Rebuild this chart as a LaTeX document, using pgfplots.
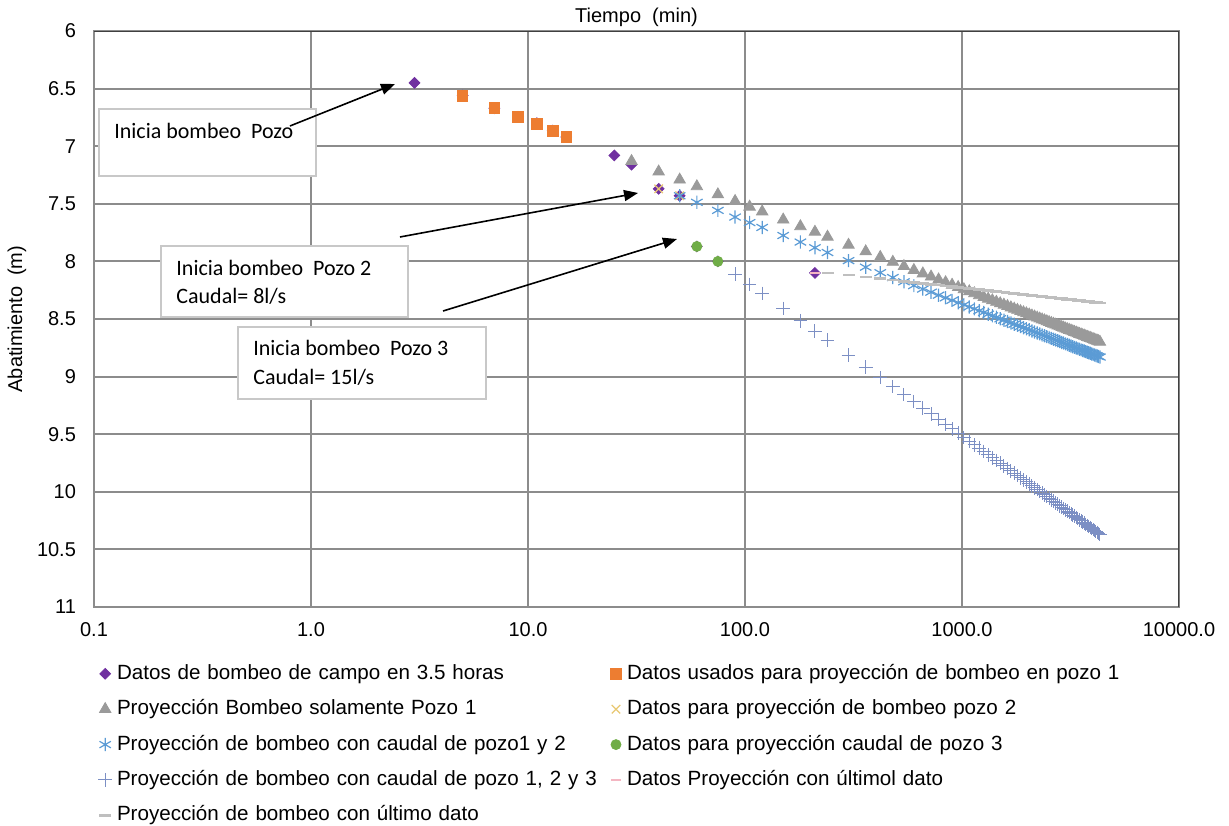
\documentclass[border=0pt]{standalone}
\usepackage{pgfplots}
\pgfplotsset{compat=1.18}
\usepackage{pgfplotstable}
\usepackage{fontspec}
\setmainfont{Liberation Sans}
\newfontfamily\calfont{Carlito}
\usetikzlibrary{arrows.meta}
\definecolor{campo}{HTML}{7030A0}
\definecolor{naranja}{HTML}{ED7D31}
\definecolor{tri}{HTML}{9A9A9A}
\definecolor{amarillo}{HTML}{E8C872}
\definecolor{ast}{HTML}{5B9BD5}
\definecolor{verde}{HTML}{70AD47}
\definecolor{plusc}{HTML}{7C8FC4}
\definecolor{rosa}{HTML}{F4B6C2}
\definecolor{ultimo}{HTML}{BFBFBF}
\definecolor{gridgray}{HTML}{8C8C8C}
\definecolor{boxgray}{HTML}{C8C8C8}

\pgfplotstableread{
t p1 p12 p123 ult
30 7.130 nan nan nan
40 7.221 nan nan nan
50 7.291 7.430 nan nan
60 7.349 7.487 nan nan
75 7.419 7.557 nan nan
90 7.477 7.615 8.110 nan
105 7.526 7.663 8.200 nan
120 7.568 7.705 8.278 nan
150 7.638 7.775 8.408 nan
180 7.696 7.832 8.515 nan
210 7.744 7.881 8.605 nan
240 7.787 7.923 8.683 8.100
300 7.857 7.993 8.813 8.120
360 7.914 8.050 8.919 8.136
420 7.963 8.098 9.009 8.150
480 8.005 8.140 9.087 8.162
540 8.042 8.177 9.156 8.173
600 8.076 8.210 9.217 8.182
660 8.106 8.240 9.273 8.191
720 8.133 8.267 9.324 8.199
780 8.158 8.293 9.371 8.206
840 8.182 8.316 9.414 8.213
900 8.204 8.338 9.454 8.219
960 8.224 8.358 9.492 8.225
1020 8.243 8.377 9.527 8.230
1080 8.261 8.395 9.560 8.235
1140 8.278 8.412 9.592 8.240
1200 8.295 8.428 9.622 8.245
1260 8.310 8.443 9.650 8.249
1320 8.325 8.458 9.678 8.253
1380 8.339 8.472 9.704 8.257
1440 8.352 8.485 9.728 8.261
1500 8.365 8.498 9.752 8.265
1560 8.377 8.510 9.775 8.268
1620 8.389 8.522 9.797 8.272
1680 8.401 8.534 9.818 8.275
1740 8.412 8.545 9.839 8.278
1800 8.422 8.555 9.859 8.281
1860 8.433 8.565 9.878 8.284
1920 8.443 8.575 9.896 8.287
1980 8.452 8.585 9.914 8.290
2040 8.462 8.594 9.932 8.292
2100 8.471 8.604 9.949 8.295
2160 8.480 8.612 9.965 8.298
2220 8.489 8.621 9.981 8.300
2280 8.497 8.629 9.997 8.302
2340 8.505 8.638 10.012 8.305
2400 8.513 8.646 10.027 8.307
2460 8.521 8.653 10.041 8.309
2520 8.528 8.661 10.055 8.311
2580 8.536 8.668 10.069 8.313
2640 8.543 8.675 10.082 8.316
2700 8.550 8.683 10.095 8.318
2760 8.557 8.689 10.108 8.320
2820 8.564 8.696 10.121 8.321
2880 8.571 8.703 10.133 8.323
2940 8.577 8.709 10.145 8.325
3000 8.584 8.716 10.157 8.327
3060 8.590 8.722 10.168 8.329
3120 8.596 8.728 10.180 8.331
3180 8.602 8.734 10.191 8.332
3240 8.608 8.740 10.202 8.334
3300 8.614 8.746 10.212 8.336
3360 8.619 8.751 10.223 8.337
3420 8.625 8.757 10.233 8.339
3480 8.631 8.762 10.243 8.340
3540 8.636 8.768 10.253 8.342
3600 8.641 8.773 10.263 8.343
3660 8.646 8.778 10.273 8.345
3720 8.651 8.783 10.282 8.346
3780 8.657 8.788 10.292 8.348
3840 8.661 8.793 10.301 8.349
3900 8.666 8.798 10.310 8.351
3960 8.671 8.803 10.319 8.352
4020 8.676 8.807 10.328 8.353
4080 8.681 8.812 10.336 8.355
4140 8.685 8.817 10.345 8.356
4200 8.690 8.821 10.353 8.357
4260 8.694 8.826 10.361 8.359
4320 8.699 8.830 10.370 8.360
}\proj

\begin{document}
\begin{tikzpicture}
\begin{axis}[
  at={(0,0)}, anchor=south west,
  scale only axis, width=542.5pt, height=288pt,
  xmode=log, xmin=0.1, xmax=10000, ymin=6, ymax=11, y dir=reverse,
  xminorticks=false,
  xtick={0.1,1,10,100,1000,10000},
  xticklabels={0.1,1.0,10.0,100.0,1000.0,10000.0},
  ytick={6,6.5,7,7.5,8,8.5,9,9.5,10,10.5,11},
  yticklabels={6,6.5,7,7.5,8,8.5,9,9.5,10,10.5,11},
  /pgf/number format/assume math mode=true,
  grid=major,
  major grid style={draw=gridgray, line width=1pt},
  axis line style={draw=gridgray, line width=1pt},
  tick style={draw=none},
  ticklabel style={font=\fontsize{10}{12}\selectfont},
  xticklabel style={yshift=-4pt},
  yticklabel style={xshift=-5.5pt},
  title={Tiempo\ \ (min)},
  title style={at={(axis description cs:0.5,1)}, anchor=center, yshift=1pt, font=\fontsize{10}{12}\selectfont},
  ylabel={Abatimiento\ \ (m)},
  ylabel style={at={(axis description cs:-0.0709,0.5)}, anchor=center, font=\fontsize{10}{12}\selectfont},
  legend columns=2,
  legend cell align=left,
  legend style={at={(axis description cs:0.0037,-0.097)}, anchor=north west, draw=none, fill=none,
    inner sep=0pt, column sep=0pt, row sep=7.2pt, font=\fontsize{10.3}{12}\selectfont,
    nodes={text width=244pt, inner xsep=2.5pt, inner ysep=0pt, text height=8pt, text depth=2.5pt, align=left}},
  legend image code/.code={\path[draw=none,fill=none] (-3pt,-2pt) rectangle (3pt,2pt); \draw[#1] plot coordinates {(0pt,0pt)};},
]
% 1 campo
\addplot[only marks, mark=square*, mark size=1.9pt, color=campo, mark options={rotate=45}]
  coordinates {(3,6.45)(5,6.56)(7,6.67)(9,6.745)(11,6.80)(13,6.865)(15,6.92)(25,7.08)(30,7.16)(40,7.37)(50,7.43)(60,7.87)(75,8.00)(210,8.10)};
\addlegendentry{\mbox{Datos de bombeo de campo en 3.5 horas}}
% 2 orange
\addplot[only marks, mark=square*, mark size=2.6pt, color=naranja]
  coordinates {(5,6.563)(7,6.667)(9,6.745)(11,6.806)(13,6.867)(15,6.918)};
\addlegendentry{\mbox{Datos usados para proyección de bombeo en pozo 1}}
% 3 triangles
\addplot[only marks, mark=triangle*, mark size=3.3pt, color=tri] table[x=t, y=p1] {\proj};
\addlegendentry{\mbox{Proyección Bombeo solamente Pozo 1}}
% 4 yellow x
\addplot[only marks, mark=x, mark size=3pt, color=amarillo, mark options={line width=0.6pt}]
  coordinates {(40,7.37)(50,7.43)};
\addlegendentry{\mbox{Datos para proyección de bombeo pozo 2}}
% 5 asterisk
\addplot[only marks, mark=asterisk, mark size=3.3pt, color=ast, mark options={line width=0.6pt}] table[x=t, y=p12] {\proj};
\addlegendentry{\mbox{Proyección de bombeo con caudal de pozo1 y 2}}
% 6 green
\addplot[only marks, mark=*, mark size=2.5pt, color=verde]
  coordinates {(60,7.87)(75,8.00)};
\addlegendentry{\mbox{Datos para proyección caudal de pozo 3}}
% 7 plus
\addplot[only marks, mark=+, mark size=3.4pt, color=plusc, mark options={line width=0.5pt}] table[x=t, y=p123] {\proj};
\addlegendentry{\mbox{Proyección de bombeo con caudal de pozo 1, 2 y 3}}
% 8 pink dash
\addplot[only marks, mark=-, mark size=2.5pt, color=rosa, mark options={line width=1pt}]
  coordinates {(210,8.10)};
\addlegendentry{\mbox{Datos Proyección con últimol dato}}
% 9 gray dash
\addplot[only marks, mark=-, mark size=3pt, color=ultimo, mark options={line width=1.2pt}] table[x=t, y=ult] {\proj};
\addlegendentry{\mbox{Proyección de bombeo con último dato}}

% darker top and right frame
\draw[black!75, line width=1pt] (axis description cs:0,1) -- (axis description cs:1,1) -- (axis description cs:1,0);

% annotations
\draw[boxgray, fill=white, line width=0.6pt] (axis description cs:0.0046,0.7483) rectangle (axis description cs:0.2046,0.8646);
\node[anchor=west, inner sep=0pt, font=\calfont\fontsize{11}{13}\selectfont] at (axis description cs:0.0184,0.8264) {Inicia bombeo\ \ Pozo};
\draw[-{Triangle[length=7pt,width=5.5pt]}, line width=0.8pt] (axis description cs:0.1806,0.8351) -- (axis description cs:0.2774,0.9080);

\draw[boxgray, fill=white, line width=0.6pt] (axis description cs:0.0618,0.5035) rectangle (axis description cs:0.2894,0.6267);
\node[anchor=west, inner sep=0pt, font=\calfont\fontsize{11}{13}\selectfont] at (axis description cs:0.0756,0.5885) {Inicia bombeo\ \ Pozo 2};
\node[anchor=west, inner sep=0pt, font=\calfont\fontsize{11}{13}\selectfont] at (axis description cs:0.0756,0.5399) {Caudal= 8l/s};
\draw[-{Triangle[length=7pt,width=5.5pt]}, line width=0.8pt] (axis description cs:0.2820,0.6424) -- (axis description cs:0.5014,0.7188);

\draw[boxgray, fill=white, line width=0.6pt] (axis description cs:0.1327,0.3611) rectangle (axis description cs:0.3613,0.4861);
\node[anchor=west, inner sep=0pt, font=\calfont\fontsize{11}{13}\selectfont] at (axis description cs:0.1465,0.4497) {Inicia bombeo\ \ Pozo 3};
\node[anchor=west, inner sep=0pt, font=\calfont\fontsize{11}{13}\selectfont] at (axis description cs:0.1465,0.3993) {Caudal= 15l/s};
\draw[-{Triangle[length=7pt,width=5.5pt]}, line width=0.8pt] (axis description cs:0.3217,0.5139) -- (axis description cs:0.5373,0.6389);
\end{axis}
\pgfresetboundingbox
\path[use as bounding box] (-47pt,-109pt) rectangle (567.5pt,303.5pt);
\end{tikzpicture}
\end{document}
